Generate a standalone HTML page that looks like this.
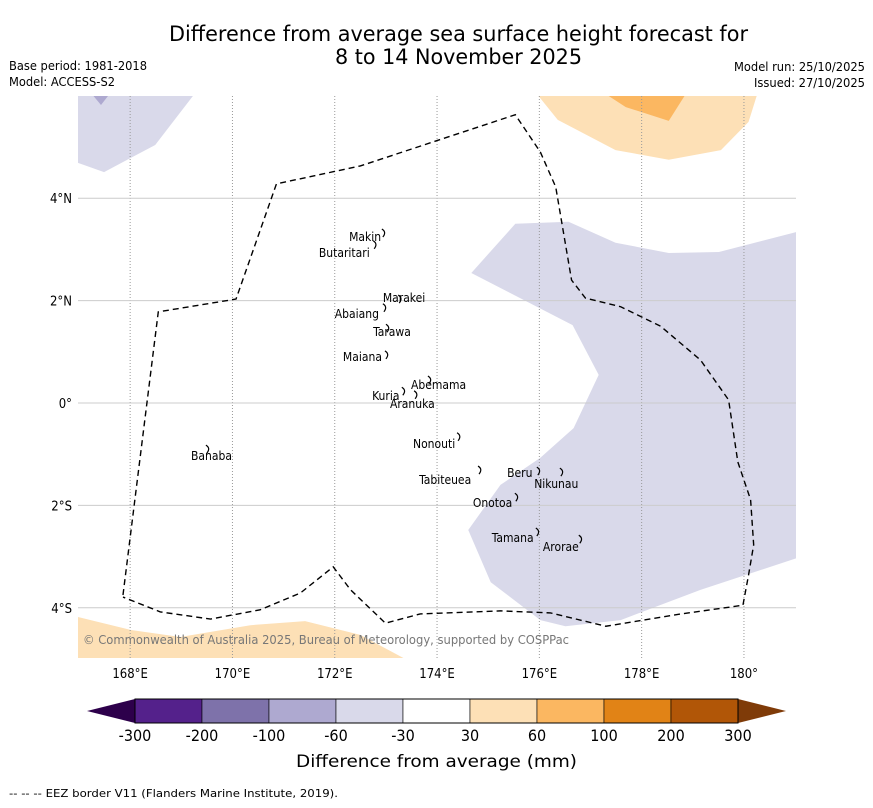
<!DOCTYPE html>
<html><head><meta charset="utf-8"><style>
body{margin:0;background:#fff;width:873px;height:804px;overflow:hidden;font-family:"DejaVu Sans Condensed","DejaVu Sans","Liberation Sans",sans-serif;}
svg text{font-family:"DejaVu Sans Condensed","DejaVu Sans","Liberation Sans",sans-serif;}
</style></head><body>
<svg id="chart" width="873" height="804" xmlns="http://www.w3.org/2000/svg">
<text x="169" y="41" font-size="21" textLength="579" lengthAdjust="spacingAndGlyphs">Difference from average sea surface height forecast for</text>
<text x="335" y="64" font-size="21" textLength="247" lengthAdjust="spacingAndGlyphs">8 to 14 November 2025</text>
<text x="9" y="70" font-size="12" textLength="138" lengthAdjust="spacingAndGlyphs">Base period: 1981-2018</text>
<text x="9" y="86" font-size="12" textLength="106" lengthAdjust="spacingAndGlyphs">Model: ACCESS-S2</text>
<text x="734" y="71" font-size="12" textLength="131" lengthAdjust="spacingAndGlyphs">Model run: 25/10/2025</text>
<text x="754" y="87" font-size="12" textLength="111" lengthAdjust="spacingAndGlyphs">Issued: 27/10/2025</text>
<g id="map"></g>
<g id="cbar"></g>
<text x="296" y="767" font-size="17" textLength="281" lengthAdjust="spacingAndGlyphs">Difference from average (mm)</text>
<text x="9" y="797" font-size="11" textLength="329" lengthAdjust="spacingAndGlyphs">--  --  -- EEZ border V11 (Flanders Marine Institute, 2019).</text>
</svg>
<script>
const lonTicks=[168,170,172,174,176,178,180];
const lonLabels=["168°E","170°E","172°E","174°E","176°E","178°E","180°"];
const latTicks=[4,2,0,-2,-4];
const latLabels=["4°N","2°N","0°","2°S","4°S"];
const cbarLevels=["-300","-200","-100","-60","-30","30","60","100","200","300"];
const cbarColors=["#54218b","#7e72aa","#aea9d0","#d9d9ea","#ffffff","#fde0b6","#fbb761","#e18316","#b15607"];
const purpleLight=[[166.98,6],[169.23,6],[168.49,5.04],[167.49,4.51],[166.98,4.69]];
const purpleDark=[[167.28,6],[167.57,6],[167.43,5.82]];
const purpleRight=[[174.67,2.54],[175.53,3.5],[176.57,3.54],[177.49,3.13],[178.53,2.93],[179.51,2.95],[181.03,3.34],[181.03,-3.03],[179.15,-3.65],[177.59,-4.24],[176.51,-4.36],[176.02,-4.24],[175.05,-3.5],[174.61,-2.48],[175.24,-1.6],[176.02,-1.07],[176.67,-0.49],[177.16,0.55],[176.65,1.52]];
const orangeTop=[[175.98,6],[180.25,6],[180.09,5.49],[179.55,4.94],[178.53,4.75],[177.49,4.94],[176.36,5.53]];
const orangeTopDark=[[177.35,6],[178.84,6],[178.53,5.51],[177.69,5.78]];
const orangeBottom=[[166.98,-4.18],[166.98,-5],[173.38,-5],[172.5,-4.53],[171.42,-4.26],[170.35,-4.34],[168.98,-4.57],[168,-4.43]];
const eez=[[167.86,-3.75],[168.55,1.78],[170.07,2.03],[170.86,4.28],[172.5,4.63],[175.53,5.63],[176.02,4.9],[176.32,4.22],[176.63,2.4],[176.9,2.05],[177.59,1.88],[178.37,1.5],[179.15,0.84],[179.7,0.06],[179.88,-1.15],[180.13,-1.89],[180.19,-2.77],[180.09,-3.36],[179.98,-3.95],[178.77,-4.12],[177.3,-4.36],[176.22,-4.1],[175.24,-4.06],[173.67,-4.12],[172.99,-4.3],[172.31,-3.65],[171.97,-3.2],[171.33,-3.71],[170.54,-4.04],[169.57,-4.22],[168.59,-4.08],[167.86,-3.79]];
const islandNames=["Makin","Butaritari","Marakei","Abaiang","Tarawa","Maiana","Abemama","Kuria","Aranuka","Nonouti","Tabiteuea","Beru","Nikunau","Onotoa","Tamana","Arorae","Banaba"];
const labelLon=[172.28,171.69,172.94,172.0,172.75,172.16,173.49,172.73,173.08,173.53,173.65,175.37,175.9,174.7,175.07,176.07,169.19];
const labelLat=[3.16,2.85,1.97,1.66,1.31,0.82,0.27,0.06,-0.10,-0.88,-1.58,-1.45,-1.66,-2.03,-2.71,-2.89,-1.11];
const islandLon=[172.96,172.79,173.28,172.98,173.04,173.02,173.86,173.35,173.59,174.43,174.84,175.99,176.44,175.56,175.97,176.81,169.52];
const islandLat=[3.32,3.09,2.03,1.86,1.46,0.94,0.45,0.23,0.16,-0.66,-1.31,-1.33,-1.35,-1.84,-2.52,-2.66,-0.90];
const X0=79,PX=51.15,Y0=403,PY=51.2;
const xs=l=>X0+(l-167)*PX, ys=a=>Y0-a*PY;
const NS="http://www.w3.org/2000/svg";
const map=document.getElementById('map'), cb=document.getElementById('cbar');
function mk(t,at,p){const e=document.createElementNS(NS,t);for(const k in at)e.setAttribute(k,at[k]);p.appendChild(e);return e;}
const clip=mk('clipPath',{id:'mc'},map);mk('rect',{x:78,y:96,width:718,height:562},clip);
const g=mk('g',{'clip-path':'url(#mc)'},map);
function poly(pts,fill,name){const p=mk('polygon',{points:pts.map(q=>xs(q[0])+','+ys(q[1])).join(' '),fill:fill},g);

}
poly(purpleLight,'#d9d9ea','anomaly-region-neg-30-60');
poly(purpleDark,'#aea9d0','anomaly-region-neg-60-100');
poly(purpleRight,'#d9d9ea','anomaly-region-east-neg-30-60');
poly(orangeTop,'#fde0b6','anomaly-region-pos-30-60');
poly(orangeTopDark,'#fbb761','anomaly-region-pos-60-100');
poly(orangeBottom,'#fde0b6','anomaly-region-south-pos-30-60');
lonTicks.forEach((l,i)=>{const ln=mk('line',{x1:xs(l),x2:xs(l),y1:96,y2:658,stroke:'#999','stroke-width':1,'stroke-dasharray':'1,2'},g);


const t=mk('text',{x:xs(l),y:678,'font-size':13,'text-anchor':'middle'},map);t.textContent=lonLabels[i];

});
latTicks.forEach((a,i)=>{const ln=mk('line',{x1:78,x2:796,y1:ys(a),y2:ys(a),stroke:'#ccc','stroke-width':1},g);


const t=mk('text',{x:72,y:ys(a)+5,'font-size':13,'text-anchor':'end'},map);t.textContent=latLabels[i];

});
const e=mk('polyline',{points:eez.map(q=>xs(q[0])+','+ys(q[1])).join(' '),fill:'none',stroke:'#000','stroke-width':1.4,'stroke-dasharray':'6,4'},g);


islandNames.forEach((n,i)=>{const x=xs(islandLon[i]),y=ys(islandLat[i]);
const s=mk('path',{d:`M${x-2},${y-4} q5,3 1,8`,fill:'none',stroke:'#000','stroke-width':1.2},g);


const t=mk('text',{x:xs(labelLon[i]),y:ys(labelLat[i]),'font-size':12},g);t.textContent=n;

});
const c=mk('text',{x:83,y:644,'font-size':12,fill:'#777',textLength:486,lengthAdjust:'spacingAndGlyphs'},g);c.textContent='© Commonwealth of Australia 2025, Bureau of Meteorology, supported by COSPPac';


const bx=135,bw=67,by=699,bh=24;
const lt=mk('polygon',{points:`${bx},${by} 87,${by+bh/2} ${bx},${by+bh}`,fill:'#2d004b'},cb);


cbarColors.forEach((col,i)=>{const r=mk('rect',{x:bx+i*bw,y:by,width:bw,height:bh,fill:col,stroke:'#000','stroke-width':0.6},cb);

});
const rt=mk('polygon',{points:`${bx+9*bw},${by} 786,${by+bh/2} ${bx+9*bw},${by+bh}`,fill:'#7f3b08'},cb);


mk('rect',{x:bx,y:by,width:9*bw,height:bh,fill:'none',stroke:'#000','stroke-width':1},cb);
cbarLevels.forEach((v,i)=>{const t=mk('text',{x:bx+i*bw,y:741,'font-size':16,'text-anchor':'middle'},cb);t.textContent=v;

});
</script>
</body></html>
